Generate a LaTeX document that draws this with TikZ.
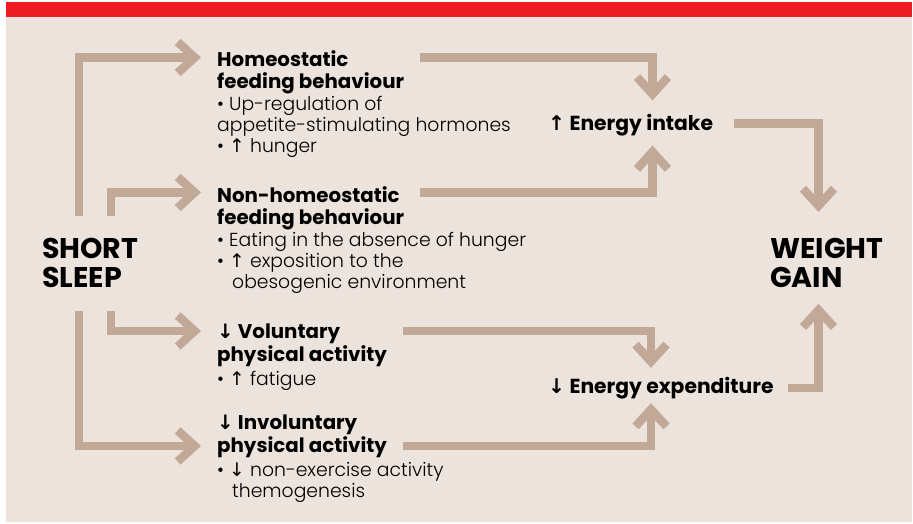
\documentclass[tikz,border=0pt]{standalone}
\usepackage{fontspec}
\setmainfont{Poppins}
\newfontfamily\lightfont{Poppins Light}
\newfontfamily\symfont{DejaVu Sans}
\usetikzlibrary{arrows.meta}

\definecolor{bgbeige}{RGB}{237,227,221}
\definecolor{barred}{RGB}{237,28,36}
\definecolor{flowtan}{RGB}{194,168,150}

\newcommand{\upar}{{\symfont ↑}}
\newcommand{\dnar}{{\symfont ↓}}

\tikzset{
  flow/.style={draw=flowtan, line width=8.5pt, line join=miter,
    -{Straight Barb[sharp, length=17pt, width=31pt]}},
  head/.style={font=\bfseries\fontsize{19.8}{22.7}\selectfont, align=left,
    inner xsep=16pt, inner ysep=0pt, anchor=north west},
  body/.style={font=\lightfont\fontsize{18.8}{21}\selectfont, align=left,
    inner xsep=16pt, inner ysep=0pt, anchor=north west},
  sum/.style={font=\bfseries\fontsize{20.3}{22}\selectfont, inner sep=0pt, anchor=west},
  big/.style={font=\bfseries\fontsize{28.5}{29}\selectfont, align=left,
    inner sep=0pt, anchor=north west}
}

\begin{document}
\begin{tikzpicture}[x=1pt, y=-1pt]
  \useasboundingbox (0,0) rectangle (913,524);
  \fill[bgbeige] (6,2) rectangle (912,522);
  \fill[barred] (6,2) rectangle (912,17);

  \node[big] (sleep) at (42,238) {SHORT\\SLEEP};
  \node[big] (gain) at (770,238) {WEIGHT\\GAIN};

  \node[head] (homeo) at (201,50) {Homeostatic\\feeding behaviour};
  \node[body] (homeotxt) at (201,96) {• Up-regulation of\\appetite-stimulating hormones\\• \upar{} hunger};
  \node[head] (nonhomeo) at (201,186) {Non-homeostatic\\feeding behaviour};
  \node[body] (nonhomeotxt) at (201,232) {• Eating in the absence of hunger\\• \upar{} exposition to the\\\hspace*{15pt}obesogenic environment};
  \node[head] (vol) at (201,324) {\dnar{} Voluntary\\physical activity};
  \node[body] (voltxt) at (201,371) {• \upar{} fatigue};
  \node[head] (invol) at (201,415) {\dnar{} Involuntary\\physical activity};
  \node[body] (involtxt) at (201,462) {• \dnar{} non-exercise activity\\\hspace*{15pt}themogenesis};

  \node[sum] (intake) at (548,125.5) {\upar{} Energy intake};
  \node[sum] (expend) at (548,388) {\dnar{} Energy expenditure};

  % short sleep to the four behaviours
  \draw[flow] ([xshift=37pt,yshift=22pt]sleep.north west) |- ([yshift=-7.5pt]homeo.north west);
  \draw[flow] ([xshift=69pt,yshift=22pt]sleep.north west) |- ([yshift=-6.5pt]nonhomeo.north west);
  \draw[flow] ([xshift=69pt,yshift=-23pt]sleep.south west) |- ([yshift=-7pt]vol.north west);
  \draw[flow] ([xshift=37pt,yshift=-23pt]sleep.south west) |- ([yshift=-31pt]invol.north west);

  % behaviours to energy balance
  \draw[flow] ([yshift=-7.5pt]homeo.north east) -| ([shift={(104.5pt,14pt)}]intake.north west);
  \draw[flow] ([yshift=-6.5pt]nonhomeo.north east) -| ([shift={(104.5pt,-9pt)}]intake.south west);
  \draw[flow] ([yshift=-7pt]vol.north east) -| ([shift={(103pt,9pt)}]expend.north west);
  \draw[flow] ([yshift=-31pt]invol.north east) -| ([shift={(103pt,-4pt)}]expend.south west);

  % energy balance to weight gain
  \draw[flow] ([shift={(21pt,2pt)}]intake.east) -| ([shift={(48.5pt,26pt)}]gain.north west);
  \draw[flow] ([xshift=14pt]expend.east) -| ([shift={(48.5pt,-16pt)}]gain.south west);
\end{tikzpicture}
\end{document}
